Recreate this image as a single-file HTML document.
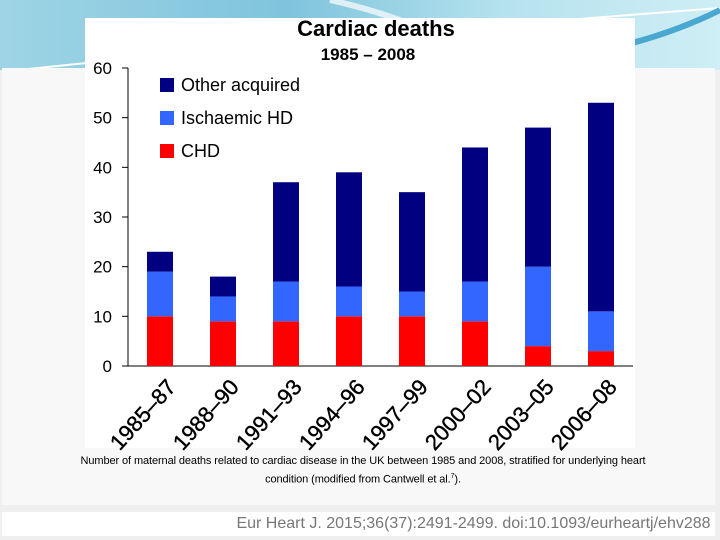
<!DOCTYPE html>
<html><head><meta charset="utf-8"><style>
body{margin:0;width:720px;height:540px;overflow:hidden;background:#efefef;font-family:"Liberation Sans",sans-serif;position:relative}
#top{position:absolute;left:0;top:0;width:720px;height:70px;background:linear-gradient(90deg,#9ed4e6,#7fc4dc 40%,#b5e2ee 70%,#cfeef5)}
#panel{position:absolute;left:2px;top:68px;width:713px;height:437px;background:#f8f8f8}
#chart{position:absolute;left:85px;top:18px;width:550px;height:430px;background:#fff}
#caption{position:absolute;left:48px;top:454px;width:630px;text-align:center;font-size:11px;letter-spacing:-0.1px;color:#000;line-height:15px}
#foot{position:absolute;left:2px;top:512px;width:713px;height:24px;background:#fff;text-align:right;font-size:16px;color:#777;line-height:24px}
</style></head><body>
<div id="top">
<svg width="720" height="70"><path d="M0,72 Q300,40 720,8" stroke="#fff" stroke-width="2" fill="none"/><path d="M330,0 Q420,20 480,60" stroke="#fff" stroke-width="6" fill="none" opacity=".7"/><path d="M580,55 Q660,40 720,10" stroke="#4aa8d0" stroke-width="6" fill="none"/></svg>
</div>
<div id="panel"></div>
<div id="chart"></div>
<svg id="svg" width="720" height="540" style="position:absolute;left:0;top:0"></svg>
<div id="caption">Number of maternal deaths related to cardiac disease in the UK between 1985 and 2008, stratified for underlying heart<br>condition (modified from Cantwell et al.<sup style="font-size:7px">7</sup>).</div>
<div id="foot">Eur Heart J. 2015;36(37):2491-2499. doi:10.1093/eurheartj/ehv288&nbsp;</div>
<script>
const categories=["1985–87","1988–90","1991–93","1994–96","1997–99","2000–02","2003–05","2006–08"];
const chd=[10,9,9,10,10,9,4,3];
const ischaemic=[9,5,8,6,5,8,16,8];
const other=[4,4,20,23,20,27,28,42];
const yTicks=[0,10,20,30,40,50,60];
const seriesNames=["Other acquired","Ischaemic HD","CHD"];
const colors={chd:"#ff0000",isch:"#3366ff",other:"#000080"};
const svg=document.getElementById('svg');const NS="http://www.w3.org/2000/svg";
function mk(t,a,p){const e=document.createElementNS(NS,t);for(const k in a)e.setAttribute(k,a[k]);(p||svg).appendChild(e);return e;}
const y=v=>366-v*298/60;const x=i=>160+i*63;const bw=26;
let t=mk('text',{x:376,y:36,'text-anchor':'middle','font-size':22,'font-weight':'bold',fill:'#000'});t.textContent="Cardiac deaths";

t=mk('text',{x:368,y:60,'text-anchor':'middle','font-size':17,'font-weight':'bold',fill:'#000'});t.textContent="1985 – 2008";

let ax=mk('line',{x1:128,x2:128,y1:y(60),y2:y(0),stroke:'#000','stroke-width':1});

ax=mk('line',{x1:128,x2:633,y1:y(0),y2:y(0),stroke:'#000','stroke-width':1});

yTicks.forEach(v=>{mk('line',{x1:122,x2:128,y1:y(v),y2:y(v),stroke:'#000'});
const l=mk('text',{x:112,y:y(v)+6,'text-anchor':'end','font-size':17,fill:'#000'});l.textContent=v;
});
categories.forEach((c,i)=>{
 const segs=[[0,chd[i],colors.chd,'chd'],[chd[i],chd[i]+ischaemic[i],colors.isch,'ischaemic'],[chd[i]+ischaemic[i],chd[i]+ischaemic[i]+other[i],colors.other,'other']];
 segs.forEach(s=>{const r=mk('rect',{x:x(i)-bw/2,y:y(s[1]),width:bw,height:y(s[0])-y(s[1]),fill:s[2]});
 });
 const l=mk('text',{x:0,y:0,'text-anchor':'end','font-size':22,fill:'#000',stroke:'#000','stroke-width':0.4,transform:`translate(${x(i)+4},${y(0)+10}) rotate(-48)`});
 l.setAttribute('dy','0.8em');l.textContent=c;
 
});
const lc=[colors.other,colors.isch,colors.chd];
seriesNames.forEach((n,i)=>{const yy=78+i*33;
 const r=mk('rect',{x:160,y:yy,width:14,height:14,fill:lc[i]});
 
 const l=mk('text',{x:181,y:yy+13,'font-size':18,fill:'#000'});l.textContent=n;
 });
</script>
</body></html>
